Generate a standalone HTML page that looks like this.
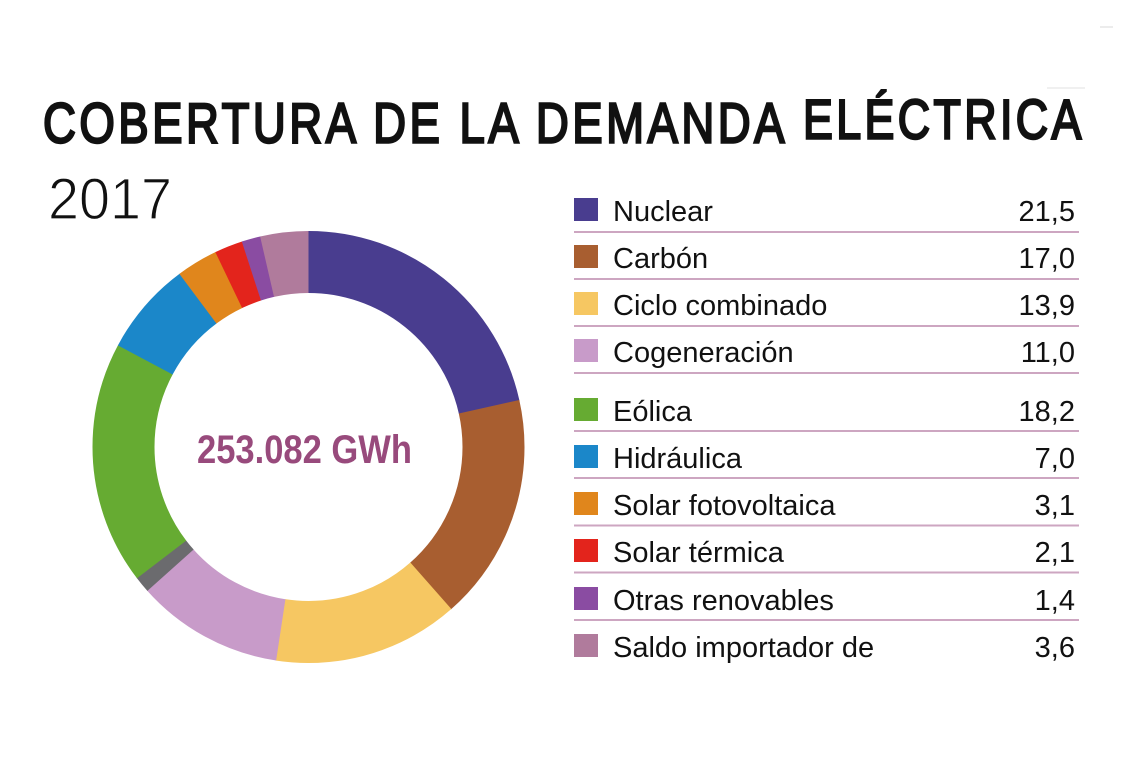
<!DOCTYPE html>
<html>
<head>
<meta charset="utf-8">
<style>
  html, body { margin:0; padding:0; background:#ffffff; }
  body { width:1137px; height:768px; overflow:hidden; }
  svg { display:block; }
  .t { font-family:"Liberation Sans", Arial, sans-serif; }
</style>
</head>
<body>
<svg width="1137" height="768" viewBox="0 0 1137 768" xmlns="http://www.w3.org/2000/svg">
  <rect width="1137" height="768" fill="#ffffff"/>

  <!-- faint artifacts -->
  <line x1="1100" y1="27" x2="1113" y2="27" stroke="#d8d8d8" stroke-width="1"/>
  <line x1="1047" y1="88" x2="1085" y2="88" stroke="#e2e2e2" stroke-width="1"/>

  <!-- Title -->
  <text class="t" transform="matrix(0.8 0 0 1 43 142.5)" x="0" y="0" font-size="57" fill="#111111" stroke="#111111" stroke-width="2.4" textLength="927" lengthAdjust="spacing">COBERTURA DE LA DEMANDA</text>
  <text class="t" transform="matrix(0.8 0 0 1 803 138.5)" x="0" y="0" font-size="56" fill="#111111" stroke="#111111" stroke-width="2.4" textLength="348" lengthAdjust="spacing">ELÉCTRICA</text>

  <!-- Year -->
  <text class="t" x="48" y="219" font-size="58" fill="#111111" stroke="#ffffff" stroke-width="1.2" textLength="124" lengthAdjust="spacingAndGlyphs">2017</text>

  <!-- Donut -->
  <g transform="rotate(-90 308.5 447)" fill="none" stroke-width="62">
    <circle cx="308.5" cy="447" r="185" pathLength="100" stroke="#493d8f" stroke-dasharray="21.55 200" stroke-dashoffset="0"/>
    <circle cx="308.5" cy="447" r="185" pathLength="100" stroke="#a85e30" stroke-dasharray="17.05 200" stroke-dashoffset="-21.5"/>
    <circle cx="308.5" cy="447" r="185" pathLength="100" stroke="#f6c762" stroke-dasharray="13.95 200" stroke-dashoffset="-38.5"/>
    <circle cx="308.5" cy="447" r="185" pathLength="100" stroke="#c89bc9" stroke-dasharray="11.05 200" stroke-dashoffset="-52.4"/>
    <circle cx="308.5" cy="447" r="185" pathLength="100" stroke="#6b6b6e" stroke-dasharray="1.25 200" stroke-dashoffset="-63.4"/>
    <circle cx="308.5" cy="447" r="185" pathLength="100" stroke="#66ab32" stroke-dasharray="18.25 200" stroke-dashoffset="-64.6"/>
    <circle cx="308.5" cy="447" r="185" pathLength="100" stroke="#1b87c9" stroke-dasharray="7.05 200" stroke-dashoffset="-82.8"/>
    <circle cx="308.5" cy="447" r="185" pathLength="100" stroke="#e0861c" stroke-dasharray="3.15 200" stroke-dashoffset="-89.8"/>
    <circle cx="308.5" cy="447" r="185" pathLength="100" stroke="#e3241c" stroke-dasharray="2.15 200" stroke-dashoffset="-92.9"/>
    <circle cx="308.5" cy="447" r="185" pathLength="100" stroke="#8a4ca2" stroke-dasharray="1.45 200" stroke-dashoffset="-95.0"/>
    <circle cx="308.5" cy="447" r="185" pathLength="100" stroke="#b07b9c" stroke-dasharray="3.6 200" stroke-dashoffset="-96.4"/>
  </g>

  <!-- Center label -->
  <text class="t" x="197" y="463" font-size="40" font-weight="bold" fill="#984a7c" textLength="215" lengthAdjust="spacingAndGlyphs">253.082 GWh</text>

  <!-- Legend -->
  <g class="t" font-size="29" fill="#111111">
    <!-- squares -->
    <rect x="574" y="198" width="24" height="23" fill="#493d8f"/>
    <rect x="574" y="245" width="24" height="23" fill="#a85e30"/>
    <rect x="574" y="292" width="24" height="23" fill="#f6c762"/>
    <rect x="574" y="339" width="24" height="23" fill="#c89bc9"/>
    <rect x="574" y="398" width="24" height="23" fill="#66ab32"/>
    <rect x="574" y="445" width="24" height="23" fill="#1b87c9"/>
    <rect x="574" y="492" width="24" height="23" fill="#e0861c"/>
    <rect x="574" y="539" width="24" height="23" fill="#e3241c"/>
    <rect x="574" y="587" width="24" height="23" fill="#8a4ca2"/>
    <rect x="574" y="634" width="24" height="23" fill="#b07b9c"/>

    <!-- separator lines -->
    <g stroke="#cda6c1" stroke-width="2">
      <line x1="574" y1="232" x2="1079" y2="232"/>
      <line x1="574" y1="279" x2="1079" y2="279"/>
      <line x1="574" y1="326" x2="1079" y2="326"/>
      <line x1="574" y1="373" x2="1079" y2="373"/>
      <line x1="574" y1="431" x2="1079" y2="431"/>
      <line x1="574" y1="478" x2="1079" y2="478"/>
      <line x1="574" y1="525.5" x2="1079" y2="525.5"/>
      <line x1="574" y1="572.5" x2="1079" y2="572.5"/>
      <line x1="574" y1="620" x2="1079" y2="620"/>
    </g>

    <!-- labels -->
    <text x="613" y="221">Nuclear</text>
    <text x="613" y="268">Carbón</text>
    <text x="613" y="315">Ciclo combinado</text>
    <text x="613" y="362">Cogeneración</text>
    <text x="613" y="421">Eólica</text>
    <text x="613" y="468">Hidráulica</text>
    <text x="613" y="515">Solar fotovoltaica</text>
    <text x="613" y="562">Solar térmica</text>
    <text x="613" y="610">Otras renovables</text>
    <text x="613" y="657">Saldo importador de</text>

    <!-- values -->
    <g text-anchor="end">
      <text x="1075" y="221">21,5</text>
      <text x="1075" y="268">17,0</text>
      <text x="1075" y="315">13,9</text>
      <text x="1075" y="362">11,0</text>
      <text x="1075" y="421">18,2</text>
      <text x="1075" y="468">7,0</text>
      <text x="1075" y="515">3,1</text>
      <text x="1075" y="562">2,1</text>
      <text x="1075" y="610">1,4</text>
      <text x="1075" y="657">3,6</text>
    </g>
  </g>
</svg>
</body>
</html>
